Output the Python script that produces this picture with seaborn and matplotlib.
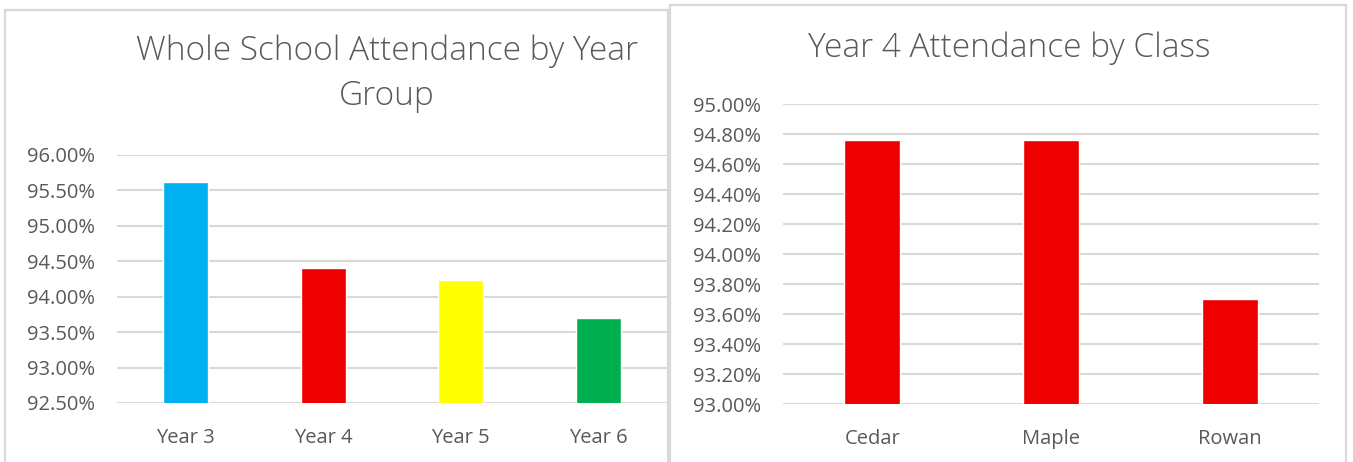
import numpy as np
import matplotlib
matplotlib.use("Agg")
import matplotlib.pyplot as plt
from matplotlib.patches import Rectangle
import seaborn as sns
import pandas as pd

# data
years = ["Year 3", "Year 4", "Year 5", "Year 6"]
year_att = [95.62, 94.40, 94.24, 93.70]
year_colors = ["#00B0F0", "#EE0000", "#FFFF00", "#00B050"]

classes = ["Cedar", "Maple", "Rowan"]
class_att = [94.76, 94.76, 93.70]
class_color = "#EE0000"

W, H = 1353, 462
sns.set_theme(style="white")
plt.rcParams["font.family"] = ["Open Sans", "DejaVu Sans"]

TXT = "#595959"
GRID = "#D9D9D9"

fig = plt.figure(figsize=(W / 100, H / 100), dpi=100)
fig.patch.set_facecolor("white")


def px_axes(x0, x1, ytop, ybot):
    return fig.add_axes([x0 / W, (H - ybot) / H, (x1 - x0) / W, (ybot - ytop) / H])


# chart frames (behind the axes)
fig.patches.append(Rectangle((5 / W, -0.1), (668 - 5) / W, (H - 10) / H + 0.1,
                             transform=fig.transFigure, facecolor="white",
                             edgecolor=GRID, lw=1.6, zorder=-2))
fig.patches.append(Rectangle((670 / W, -0.1), (1346 - 670) / W, (H - 5) / H + 0.1,
                             transform=fig.transFigure, facecolor="white",
                             edgecolor=GRID, lw=1.6, zorder=-1))


def style(ax, lo, hi, step):
    ax.set_facecolor("none")
    ax.set_ylim(lo, hi)
    ticks = np.arange(lo, hi + step / 2, step)
    ax.set_yticks(ticks)
    ax.set_yticklabels([f"{t:.2f}%" for t in ticks])
    for s in ax.spines.values():
        s.set_visible(False)
    ax.yaxis.grid(True, color=GRID, lw=1.5)
    ax.set_axisbelow(True)
    ax.tick_params(axis="y", length=0, pad=16, labelsize=14.5, labelcolor=TXT)
    ax.tick_params(axis="x", length=0, pad=18, labelsize=14.5, labelcolor=TXT)
    ax.set_xlabel("")
    ax.set_ylabel("")


# left chart
ax1 = px_axes(117, 667, 155, 403)
df1 = pd.DataFrame({"year": years, "att": year_att})
sns.barplot(data=df1, x="year", y="att", hue="year", palette=year_colors,
            width=0.325, legend=False, ax=ax1, saturation=1)
style(ax1, 92.5, 96.0, 0.5)
fig.text(387 / W, 1 - 74 / H, "Whole School Attendance by Year\nGroup", ha="center",
         va="center", fontsize=24, color=TXT, linespacing=1.45, fontweight="light")

# right chart
ax2 = px_axes(783, 1319, 104, 404)
df2 = pd.DataFrame({"cls": classes, "att": class_att})
sns.barplot(data=df2, x="cls", y="att", color=class_color, width=0.315,
            ax=ax2, saturation=1)
style(ax2, 93.0, 95.0, 0.2)
fig.text(1009 / W, 1 - 48 / H, "Year 4 Attendance by Class", ha="center",
         va="center", fontsize=24, color=TXT, fontweight="light")

fig.savefig("out.png", dpi=100)
